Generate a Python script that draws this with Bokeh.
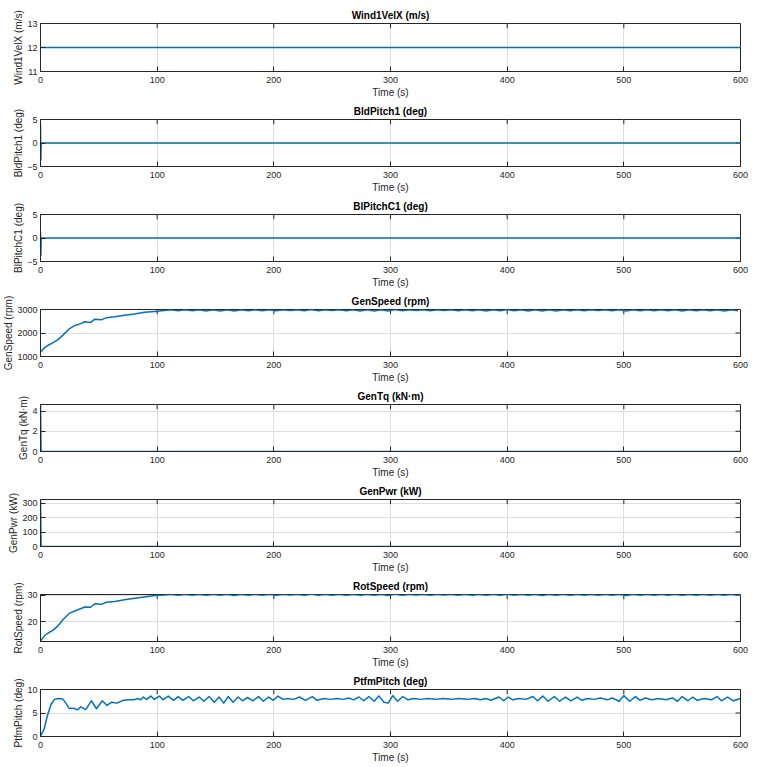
from bokeh.plotting import figure
from bokeh.models import Range1d, FixedTicker
from bokeh.layouts import column
from bokeh.embed import file_html
from bokeh.resources import INLINE

# ---------------- data ----------------
time_ticks = [0, 100, 200, 300, 400, 500, 600]

wind_t = [0, 600]
wind_v = [12, 12]

bldpitch_t = [0, 0.3, 0.6, 600]
bldpitch_v = [4.1, -3.6, 0, 0]

blpitchc_t = [0, 0.3, 0.6, 600]
blpitchc_v = [1.3, -3.7, 0, 0]

gentq_t = [0, 0.5, 600]
gentq_v = [4.65, 0, 0]

genpwr_t = [0, 0.5, 600]
genpwr_v = [325, 0, 0]

speed_t = [0, 3.7, 6.6, 10.8, 15, 19.4, 25, 29.4, 33.7, 38, 43, 46.5, 52, 56.5,
           63.6, 72, 80.7, 89, 98, 106,
           112, 118, 124, 130, 136, 142, 148, 154, 160, 166, 172, 178, 184, 190,
           196, 202, 208, 214, 220, 226, 232, 238, 244, 250, 256, 262, 268, 274,
           280, 286, 292, 298, 304, 310, 316, 322, 328, 334, 340, 346, 352, 358,
           364, 370, 376, 382, 388, 394, 400, 406, 412, 418, 424, 430, 436, 442,
           448, 454, 460, 466, 472, 478, 484, 490, 496, 502, 508, 514, 520, 526,
           532, 538, 544, 550, 556, 562, 568, 574, 580, 586, 592, 598]

genspeed_v = [1188, 1388, 1480, 1588, 1720, 1920, 2188, 2320, 2388, 2480, 2450, 2588,
              2560, 2653, 2693, 2760, 2813, 2880, 2920, 2960,
              2990, 2945, 2992, 2950, 2988, 2940, 2993, 2938, 2990, 2935, 2992, 2945,
              2990, 2948, 2994, 2950, 2990, 2955, 2992, 2945, 2995, 2950, 2990, 2952,
              2993, 2945, 2990, 2940, 2994, 2938, 2990, 2935, 2995, 2945, 2990, 2955,
              2992, 2950, 2990, 2955, 2993, 2950, 2990, 2945, 2994, 2940, 2990, 2942,
              2995, 2950, 2990, 2940, 2993, 2935, 2990, 2938, 2994, 2945, 2990, 2950,
              2992, 2952, 2990, 2945, 2994, 2935, 2990, 2945, 2993, 2950, 2990, 2948,
              2994, 2940, 2990, 2942, 2993, 2950, 2990, 2940, 2993, 2945]

rotspeed_v = [12.7, 14.8, 15.7, 16.8, 18.4, 20.8, 23.2, 24.0, 24.75, 25.5, 25.4, 26.7,
              26.5, 27.3, 27.6, 28.2, 28.8, 29.3, 29.8, 30.05,
              30.3, 29.9, 30.3, 29.95, 30.25, 29.9, 30.3, 29.9, 30.3, 29.85, 30.3, 29.9,
              30.3, 29.95, 30.3, 29.95, 30.3, 30.0, 30.3, 29.9, 30.35, 29.95, 30.3, 29.95,
              30.3, 29.9, 30.3, 29.9, 30.3, 29.9, 30.3, 29.85, 30.35, 29.9, 30.3, 30.0,
              30.3, 29.95, 30.3, 30.0, 30.3, 29.95, 30.3, 29.9, 30.3, 29.9, 30.3, 29.9,
              30.35, 29.95, 30.3, 29.9, 30.3, 29.85, 30.3, 29.9, 30.3, 29.9, 30.3, 29.95,
              30.3, 29.95, 30.3, 29.9, 30.3, 29.85, 30.3, 29.9, 30.3, 29.95, 30.3, 29.95,
              30.3, 29.9, 30.3, 29.9, 30.3, 29.95, 30.3, 29.9, 30.3, 29.9]

ptfm_t = [0, 3, 6, 9, 12, 15, 19, 22, 24.5, 28, 31.7, 34.5, 38.8, 43.6, 48, 53, 57, 61,
          65.5, 71, 76, 80, 83, 86, 88, 91, 94.6, 97.5, 102, 105, 109.5, 114, 118, 122,
          127, 131, 136, 140, 144.5, 149, 153, 157, 161, 165, 169.5, 173, 177.5, 182,
          187, 191, 195.5, 199.5, 203.5, 208, 212, 217, 222, 227, 233, 237, 243, 248.5,
          254, 260, 264, 268.5, 273, 277, 281.5, 286, 290, 294.5, 298, 302, 306, 310.5,
          315, 320, 326, 332, 339, 345, 352, 358, 366, 372, 377, 382, 386, 393, 397,
          401, 404.7, 410, 416, 422, 426, 430.6, 435, 440.4, 445, 450, 454.6, 460, 464,
          469, 474.6, 480, 486, 490, 496, 500, 505, 510, 514, 518.5, 524, 530, 536,
          541.6, 546, 550, 555, 559, 563, 569, 575, 580, 583.6, 589, 594, 600]
ptfm_v = [0.1, 1.5, 4.5, 6.8, 7.9, 8.1, 8.0, 7.0, 6.0, 6.0, 5.7, 6.3, 5.7, 7.6, 5.9, 7.6,
          6.6, 7.3, 7.1, 7.7, 7.8, 7.8, 8.1, 7.8, 8.4, 7.9, 8.6, 7.9, 8.6, 7.8, 8.6, 7.7,
          8.5, 7.7, 8.5, 7.6, 8.4, 7.5, 8.5, 7.3, 8.4, 7.1, 8.5, 7.3, 8.4, 7.6, 8.3, 7.6,
          8.5, 7.5, 8.4, 7.7, 8.6, 7.9, 8.1, 7.9, 8.4, 7.7, 8.5, 7.7, 8.1, 7.9, 8.1, 7.9,
          8.2, 7.8, 8.4, 7.6, 8.5, 7.5, 8.6, 7.3, 7.1, 8.7, 7.5, 8.5, 7.8, 8.1, 7.9, 8.1,
          7.9, 8.1, 7.9, 8.1, 7.9, 8.1, 7.8, 8.1, 7.7, 8.4, 7.6, 8.4, 7.8, 8.1, 7.9, 8.5,
          7.6, 8.6, 7.5, 8.5, 7.5, 8.4, 7.6, 8.4, 7.7, 8.1, 7.9, 8.2, 7.8, 8.2, 7.5, 8.7,
          7.5, 8.5, 7.7, 8.2, 7.8, 8.1, 7.8, 8.2, 7.5, 8.5, 7.6, 8.4, 7.7, 8.1, 7.8, 8.5,
          7.6, 8.4, 7.6, 8.1]

panels = [
    ("Wind1VelX (m/s)", "Wind1VelX (m/s)", wind_t, wind_v, (11, 13), [11, 12, 13]),
    ("BldPitch1 (deg)", "BldPitch1 (deg)", bldpitch_t, bldpitch_v, (-5, 5), [-5, 0, 5]),
    ("BlPitchC1 (deg)", "BlPitchC1 (deg)", blpitchc_t, blpitchc_v, (-5, 5), [-5, 0, 5]),
    ("GenSpeed (rpm)", "GenSpeed (rpm)", speed_t, genspeed_v, (1000, 3000), [1000, 2000, 3000]),
    ("GenTq (kN\u00b7m)", "GenTq (kN\u00b7m)", gentq_t, gentq_v, (0, 4.65), [0, 2, 4]),
    ("GenPwr (kW)", "GenPwr (kW)", genpwr_t, genpwr_v, (0, 325), [0, 100, 200, 300]),
    ("RotSpeed (rpm)", "RotSpeed (rpm)", speed_t, rotspeed_v, (12.5, 30.2), [20, 30]),
    ("PtfmPitch (deg)", "PtfmPitch (deg)", ptfm_t, ptfm_v, (0, 10), [0, 5, 10]),
]

# ---------------- style ----------------
FONT = "Liberation Sans"
AX = "#262626"
GRID = "#dfdfdf"
LINE = "#0072BD"

W = 765
FRAME_W = 701
FRAME_H = 50
LEFT, RIGHT = 39, 25
BOTTOM = 27
TICK_PX = 5

figs = []
for i, (title, ylab, t, v, yr, yt) in enumerate(panels):
    top = 23 if i == 0 else 18
    h = top + FRAME_H + BOTTOM
    p = figure(width=W, height=h,
               x_range=Range1d(0, 600), y_range=Range1d(*yr),
               output_backend="svg", toolbar_location=None,
               min_border_left=LEFT, min_border_right=RIGHT, min_border_top=top,
               min_border_bottom=BOTTOM,
               background_fill_color="white", border_fill_color="white")
    p.title.text = title
    p.title.align = "center"
    p.title.text_font = FONT
    p.title.text_font_size = "10px"
    p.title.text_font_style = "bold"
    p.title.text_color = "#000000"
    p.title.standoff = 6

    p.outline_line_color = AX
    p.outline_line_width = 1
    p.outline_line_alpha = 1

    xt = FixedTicker(ticks=time_ticks)
    ytk = FixedTicker(ticks=yt)
    xa = p.xaxis[0]
    ya = p.yaxis[0]
    xa.ticker = xt
    ya.ticker = ytk
    for ax in (xa, ya):
        ax.axis_line_color = AX
        ax.major_tick_line_color = AX
        ax.major_tick_in = TICK_PX
        ax.major_tick_out = 0
        ax.minor_tick_line_color = None
        ax.major_label_text_font = FONT
        ax.major_label_text_font_size = "9px"
        ax.major_label_text_color = AX
        ax.axis_label_text_font = FONT
        ax.axis_label_text_font_size = "10px"
        ax.axis_label_text_font_style = "normal"
        ax.axis_label_text_color = AX
    xa.axis_label = "Time (s)"
    xa.major_label_standoff = 5
    xa.axis_label_standoff = 1
    ya.axis_label = ylab
    ya.major_label_standoff = 3
    ya.axis_label_standoff = 0

    p.xgrid.ticker = xt
    p.ygrid.ticker = ytk
    p.xgrid.grid_line_color = GRID
    p.ygrid.grid_line_color = GRID

    # box ticks on the top and right edges (inward), derived from ranges and tick lists
    y0, y1 = yr
    dy = (y1 - y0) * TICK_PX / FRAME_H
    dx = 600 * TICK_PX / FRAME_W
    inner_x = time_ticks[1:-1]
    p.segment(x0=inner_x, y0=[y1] * len(inner_x), x1=inner_x, y1=[y1 - dy] * len(inner_x),
              line_color=AX, line_width=1)
    inner_y = [yy for yy in yt if y0 < yy < y1]
    p.segment(x0=[600] * len(inner_y), y0=inner_y, x1=[600 - dx] * len(inner_y), y1=inner_y,
              line_color=AX, line_width=1)

    p.line(t, v, line_color=LINE, line_width=1.5, line_join="round")
    figs.append(p)

layout = column(*figs, spacing=0)
open("out.html", "w").write(file_html(layout, INLINE))
